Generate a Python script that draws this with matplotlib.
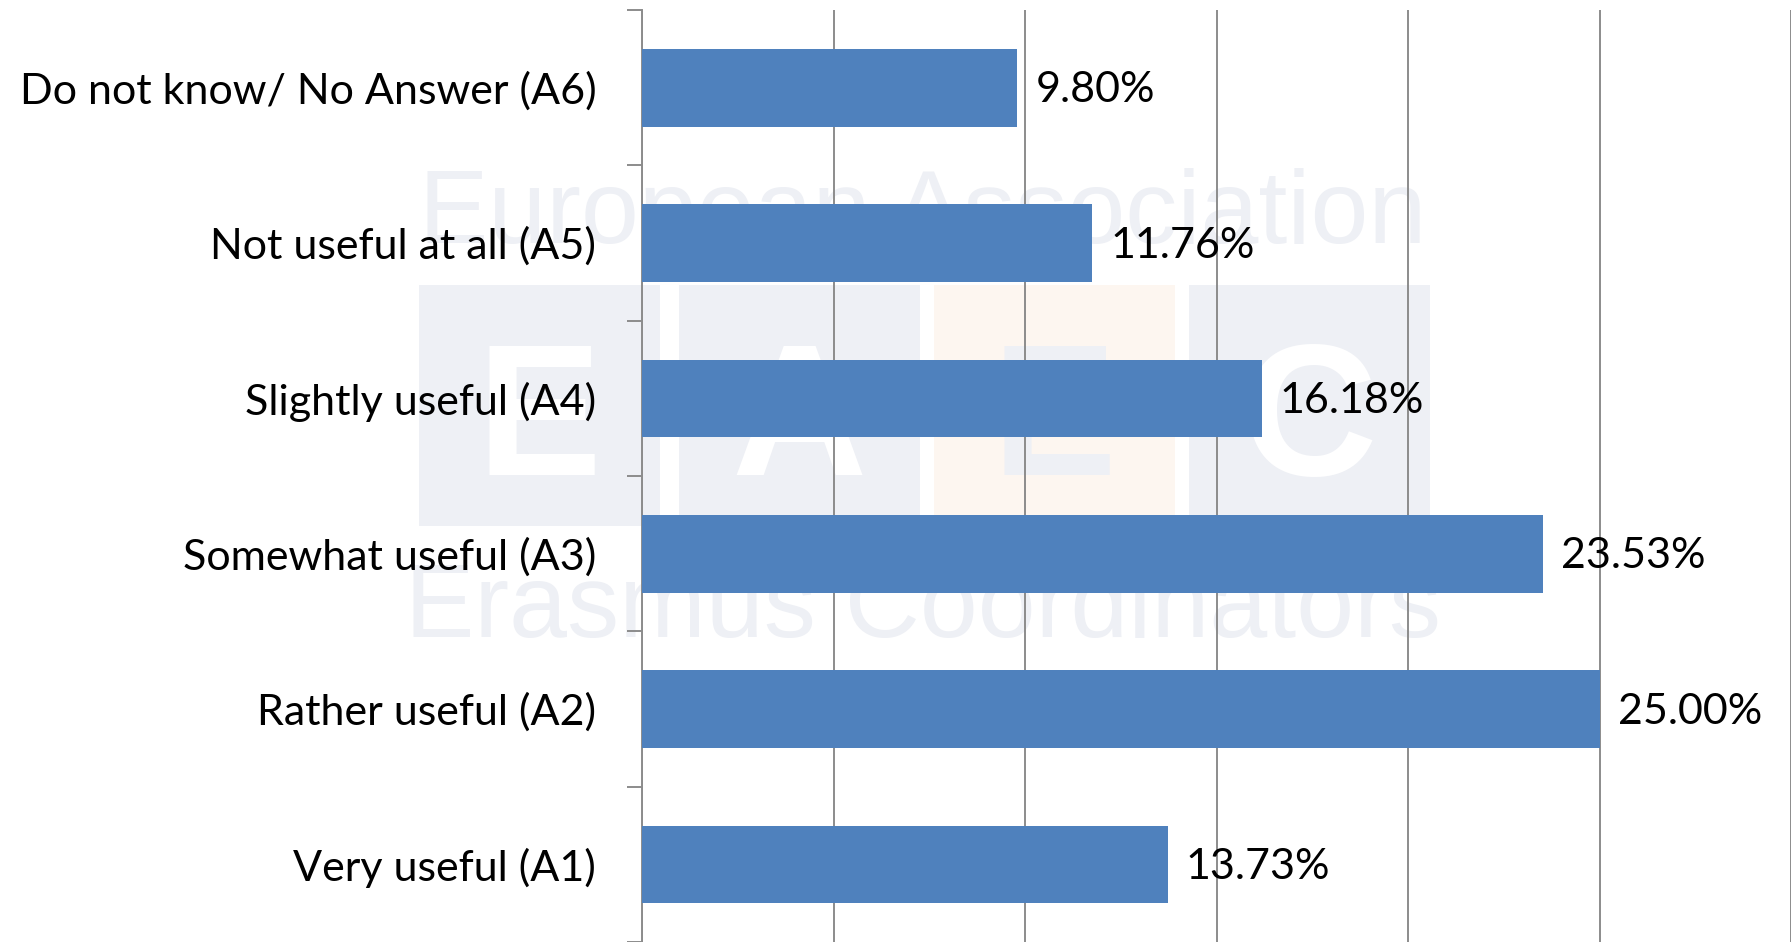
"""Usefulness survey chart (horizontal bars) with faint EAEC watermark."""
import matplotlib
matplotlib.use("Agg")
import matplotlib.pyplot as plt
from matplotlib.patches import Rectangle
from matplotlib.ticker import FixedLocator

# Data, bottom to top
categories = [
    "Very useful (A1)",
    "Rather useful (A2)",
    "Somewhat useful (A3)",
    "Slightly useful (A4)",
    "Not useful at all (A5)",
    "Do not know/ No Answer (A6)",
]
shares = [13.73, 25.00, 23.53, 16.18, 11.76, 9.80]
x_ticks = [0, 5, 10, 15, 20, 25, 30]

BAR_COLOR = "#4F81BD"
GRID_COLOR = "#8C8C8C"
WM_GRAY = "#EEF0F5"
WM_ORANGE = "#FDF6F0"
FONT = "Lato"

W, H = 1791, 942
fig = plt.figure(figsize=(W / 100, H / 100), dpi=100)


def fx(px):
    return px / W


def fy(py):
    return 1 - py / H


# watermark (drawn on the figure, behind the axes)
fig.text(fx(923), fy(243), "European Association", ha="center", va="baseline",
         fontsize=75, color=WM_GRAY, family="Liberation Sans", zorder=-2)
fig.text(fx(923), fy(637), "Erasmus Coordinators", ha="center", va="baseline",
         fontsize=75, color=WM_GRAY, family="Liberation Sans", zorder=-2)
boxes = [(419, WM_GRAY, "E", "white"), (679, WM_GRAY, "A", "white"),
         (934, WM_ORANGE, "E", WM_GRAY), (1189, WM_GRAY, "C", "white")]
for x0, bg, letter, fg in boxes:
    fig.patches.append(Rectangle((fx(x0), fy(526)), fx(241), 241 / H,
                                 transform=fig.transFigure, facecolor=bg,
                                 edgecolor="none", zorder=-3))
    fig.text(fx(x0 + 120), fy(475), letter, ha="center", va="baseline",
             fontsize=135, fontweight="bold", color=fg,
             family="Liberation Sans", zorder=-2)

ax = fig.add_axes([fx(642), 0, 1 - fx(642), fy(10)])
ax.set_zorder(1)
ax.patch.set_alpha(0)

y_pos = range(len(categories))
ax.barh(y_pos, shares, height=0.5, color=BAR_COLOR, zorder=3)

for y, v in zip(y_pos, shares):
    ax.annotate(f"{v:.2f}%", (v, y), xytext=(13, -2), textcoords="offset points",
                va="center", ha="left", fontsize=31, family=FONT, color="black",
                zorder=4)

ax.set_xlim(0, 30)
ax.set_ylim(-0.5, len(categories) - 0.5)
ax.set_xticks(x_ticks)
ax.set_xticklabels([])
ax.tick_params(axis="x", length=0)
ax.grid(axis="x", color=GRID_COLOR, linewidth=1.4)
ax.set_axisbelow(True)

ax.set_yticks(list(y_pos))
ax.set_yticklabels(categories, fontsize=31, family=FONT)
ax.yaxis.set_minor_locator(FixedLocator([i - 0.5 for i in range(len(categories) + 1)]))
ax.tick_params(axis="y", which="major", length=0, pad=33)
ax.tick_params(axis="y", which="minor", length=10.8, width=1.4, color=GRID_COLOR)

for side in ["top", "right", "bottom"]:
    ax.spines[side].set_visible(False)
ax.spines["left"].set_color(GRID_COLOR)
ax.spines["left"].set_linewidth(1.4)

fig.savefig("out.png", dpi=100)
